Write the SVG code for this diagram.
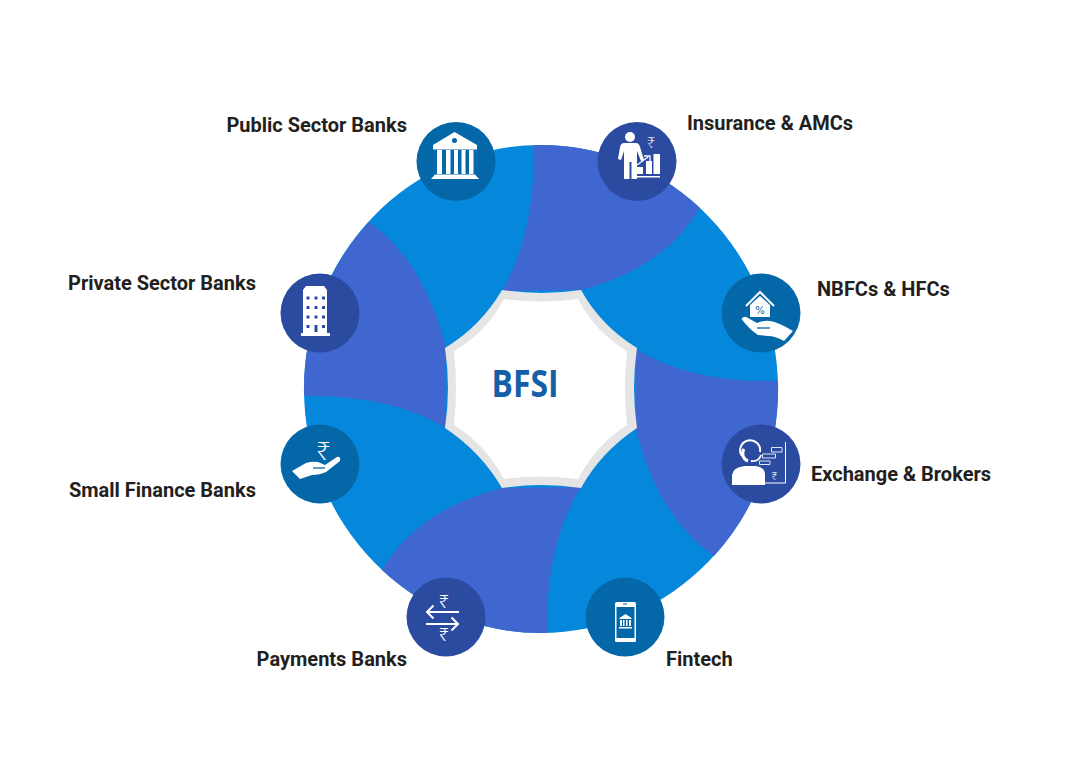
<svg xmlns="http://www.w3.org/2000/svg" width="1072" height="768" viewBox="0 0 1072 768">
<style>
.label{font-family:Roboto,"Liberation Sans",sans-serif;font-weight:700;font-size:20px;fill:#231f20}
.end{text-anchor:end}
.teal{fill:#0467a8}
.navy{fill:#2b4ba1}
.w{fill:#fff}
.rs{font-family:"Noto Sans","DejaVu Sans",sans-serif;font-weight:300;fill:#fff;text-anchor:middle}
</style>
<rect width="1072" height="768" fill="#fff"/>
<g id="ring">
<ellipse cx="541" cy="389" rx="237" ry="244" fill="#0588dc"/>
<g fill="#4066cf">
<path d="M534,145 A237,244 0 0 1 700,208 Q665,268 581,290 L502,291 Q535,235 534,145Z"/>
<path d="M778,381 A237,244 0 0 1 714,556 Q658,517 636,430 L636,349 Q690,383 778,381Z"/>
<path d="M547,633 A237,244 0 0 1 382,570 Q417,510 502,488 L581,487 Q546,543 547,633Z"/>
<path d="M304,396 A237,244 0 0 1 369,222 Q424,261 446,348 L446,428 Q392,395 304,396Z"/>
</g>
</g>
<g id="center">
<path fill="#e5e5e5" d="M502,290 Q541,296 581,290 Q601,326 637,348 Q631,388 637,428 Q601,452 581,488 Q541,482 502,488 Q481,452 445,428 Q451,388 445,348 Q481,326 502,290Z"/>
<path fill="#fff" d="M504,299 Q541,304 578,299 Q596,333 627,351 Q623,388 627,425 Q596,445 578,479 Q541,474 504,479 Q486,445 454,425 Q458,388 454,351 Q486,333 504,299Z"/>
<text x="491.500" y="396.500" font-family="'Open Sans',sans-serif" font-weight="700" font-size="37" fill="#135fa8" textLength="67" lengthAdjust="spacingAndGlyphs">BFSI</text>
</g>
<g id="public-sector-banks">
<circle class="teal" cx="456" cy="161.500" r="39.500"/>
<path class="w" d="M454.500,132 L477,145 V149.500 H433 V145Z M431,179 L435,174.500 H475 L479,179Z"/>
<circle class="teal" cx="454.500" cy="140.500" r="2.500"/>
<path class="w" d="M437,150 h5 v24 h-5z M446,150 h4.500 v24 h-4.500z M454,150 h4 v24 h-4z M461.500,150 h4 v24 h-4z M469,150 h4.500 v24 h-4.500z"/>
<text class="label end" x="407" y="132">Public Sector Banks</text>
</g>
<g id="insurance-amcs">
<circle class="navy" cx="637" cy="161.500" r="39.500"/>
<circle class="w" cx="630" cy="137" r="5"/>
<path class="w" d="M624,143 H636 Q639,143 640,147 L644,160 L641,161 L637,151 V179 H631.500 V162 H629.500 V179 H624 V151 L621,160 L618,159 L620,147 Q621,143 624,143Z"/>
<path class="w" d="M637,167 h6 v7 h-6z M646,161 h6 v13 h-6z M653.500,154 h6.500 v20 h-6.500z M637,176 h23 v1.500 h-23z"/>
<path d="M637,165 L648,157 M644,156 H650 V161" fill="none" stroke="#fff" stroke-width="1.300"/>
<text class="rs" x="651" y="148" font-size="15">₹</text>
<text class="label" x="687" y="130">Insurance &amp; AMCs</text>
</g>
<g id="nbfcs-hfcs">
<circle class="teal" cx="761" cy="313" r="39.500"/>
<path d="M746,306 L760,292 L774,306" fill="none" stroke="#fff" stroke-width="2"/>
<path class="w" d="M760,296 L770,305 V317 H750 V305Z"/>
<text x="760" y="314" font-family="'DejaVu Sans',sans-serif" font-size="10" text-anchor="middle" fill="#0467a8">%</text>
<path class="w" d="M741.500,319 Q744,315 748,318 L757,323 Q763,320 770,321 Q778,322 793,331 L784,341 Q775,336 768,336 L758,335 Q750,330 741.500,319Z"/>
<path d="M757,328 H770" stroke="#0467a8" stroke-width="1.300"/>
<text class="label" x="817" y="295.500">NBFCs &amp; HFCs</text>
</g>
<g id="exchange-brokers">
<circle class="navy" cx="761" cy="464" r="39.500"/>
<path d="M742,456 A10,10 0 1 1 760,452" fill="none" stroke="#fff" stroke-width="2"/>
<path d="M744,449 A8,8 0 0 0 748,461" fill="none" stroke="#fff" stroke-width="3"/>
<path d="M751,461 Q759,462 761,455" fill="none" stroke="#fff" stroke-width="1.800"/>
<path class="w" d="M732,485 V475 Q733,467 745,466 H755 Q765,467 765,475 V485Z"/>
<path d="M771.500,447.500 h10.500 v4.500 h-10.500z M762.500,454 h13 v4 h-13z M759.500,461 h10.500 v3.500 h-10.500z" fill="none" stroke="#dfe4f3" stroke-width="1"/>
<path d="M785.500,442 V483 H765" fill="none" stroke="#fff" stroke-width="1"/>
<text class="rs" x="774.500" y="480" font-size="11">₹</text>
<text class="label" x="811" y="481">Exchange &amp; Brokers</text>
</g>
<g id="fintech">
<circle class="teal" cx="625" cy="617" r="39.500"/>
<rect class="w" x="615" y="602" width="21" height="40" rx="1.500"/>
<rect class="teal" x="616.500" y="607" width="18" height="31"/>
<rect class="teal" x="623" y="603.500" width="4" height="1"/>
<path class="w" d="M625.500,614 L631.500,618 V619 H619.500 V618Z M620,620 h2 v6 h-2z M623,620 h1.500 v6 h-1.500z M626,620 h1.500 v6 h-1.500z M629,620 h2 v6 h-2z M619,627 h13 v1.500 h-13z"/>
<text class="label" x="666" y="665.500">Fintech</text>
</g>
<g id="payments-banks">
<circle class="navy" cx="446" cy="617" r="39.500"/>
<path d="M459,612 H427 M433.500,605.500 L427,612 L433.500,618.500 M426,624 H458 M451.500,617.500 L458,624 L451.500,630.500" fill="none" stroke="#fff" stroke-width="2"/>
<text class="rs" x="444" y="608" font-size="18">₹</text>
<text class="rs" x="444" y="641" font-size="18">₹</text>
<text class="label end" x="407" y="665.500">Payments Banks</text>
</g>
<g id="small-finance-banks">
<circle class="teal" cx="320" cy="464" r="39.500"/>
<text class="rs" x="323.500" y="460" font-size="25">₹</text>
<path class="w" d="M292,471 L306,463 Q312,461 318,462 L325,465 L337,457 Q341,456 340,461 L326,472 Q320,475 312,475 L300,479Z"/>
<path d="M313,468 H325" stroke="#0467a8" stroke-width="1.300"/>
<text class="label end" x="256" y="496.500">Small Finance Banks</text>
</g>
<g id="private-sector-banks">
<circle class="navy" cx="320" cy="313" r="39.500"/>
<path class="w" d="M306,286 H324 L327,290 V333 H330 V336 H301 V333 H303 V290Z"/>
<path fill="#2b4ba1" d="M306.500,296.500 h3 v3 h-3z M314.500,296.500 h3 v3 h-3z M322,296.500 h3 v3 h-3z M306.500,306 h3 v3 h-3z M314.500,306 h3 v3 h-3z M322,306 h3 v3 h-3z M306.500,315.500 h3 v3 h-3z M314.500,315.500 h3 v3 h-3z M322,315.500 h3 v3 h-3z M306.500,325 h3 v3 h-3z M322,325 h3 v3 h-3z M314.500,325 h3 v7 h-3z"/>
<text class="label end" x="256" y="289.500">Private Sector Banks</text>
</g>
</svg>
